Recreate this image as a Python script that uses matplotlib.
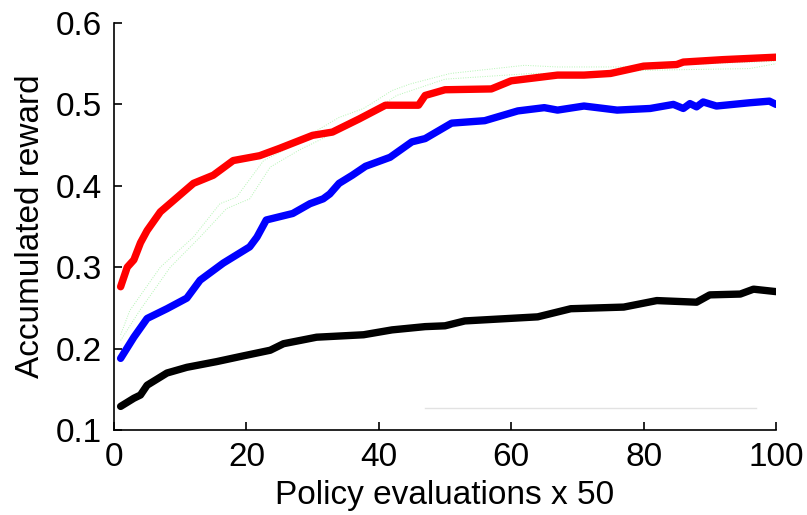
"""
plot.py  —  Accumulated reward vs. number of policy evaluations.
Usage: python plot.py
"""

import matplotlib
matplotlib.use("Agg")
import matplotlib.pyplot as plt

# red: best method
red_x = [1, 2, 3, 4, 5, 7, 9, 12, 15, 18, 22, 25, 30, 33, 37, 41, 46, 47, 50,
         57, 60, 64, 67, 71, 75, 80, 85, 86, 92, 100]
red_y = [0.276, 0.300, 0.309, 0.330, 0.345, 0.368, 0.382, 0.403, 0.413, 0.431,
         0.437, 0.446, 0.462, 0.466, 0.482, 0.499, 0.499, 0.511, 0.518, 0.519,
         0.529, 0.533, 0.536, 0.536, 0.538, 0.547, 0.549, 0.552, 0.555, 0.558]

# blue
blue_x = [1, 3, 5, 8, 11, 13, 16.5, 20.5, 21.6, 23, 27, 29.6, 31.6, 32.6, 34,
          36, 38, 41.7, 45, 47, 51, 56, 61, 65, 67, 71, 76, 81, 84.5, 86, 87,
          88, 89, 91, 96, 99, 100]
blue_y = [0.188, 0.214, 0.237, 0.249, 0.262, 0.284, 0.305, 0.325, 0.337, 0.358,
          0.366, 0.378, 0.384, 0.390, 0.403, 0.413, 0.424, 0.435, 0.454, 0.458,
          0.477, 0.480, 0.492, 0.496, 0.493, 0.498, 0.493, 0.495, 0.500, 0.495,
          0.501, 0.497, 0.503, 0.498, 0.502, 0.504, 0.500]

# black: baseline
black_x = [1, 3, 4, 5, 8, 11, 15.5, 19.5, 23.6, 25.6, 30.6, 37.7, 42, 47, 50,
           53, 64, 69, 77, 82, 88, 90, 94.6, 96.6, 100]
black_y = [0.129, 0.139, 0.143, 0.155, 0.170, 0.177, 0.184, 0.191, 0.198, 0.206,
           0.214, 0.217, 0.223, 0.227, 0.228, 0.234, 0.239, 0.249, 0.251, 0.259,
           0.257, 0.266, 0.267, 0.273, 0.270]

# faint green band (upper / lower)
gu_x = [1, 2.4, 7, 12, 16, 18.5, 22.6, 27.6, 29, 34, 37.7, 42, 44.7, 50.8, 62,
        67, 76, 100]
gu_y = [0.217, 0.247, 0.300, 0.337, 0.378, 0.386, 0.431, 0.452, 0.460, 0.484,
        0.495, 0.517, 0.525, 0.538, 0.548, 0.546, 0.546, 0.553]
gl_x = [1, 3.9, 8.5, 13, 17, 20.5, 23.6, 28, 32, 37, 42.7, 50, 63, 67, 81, 96, 100]
gl_y = [0.210, 0.247, 0.300, 0.337, 0.372, 0.384, 0.423, 0.444, 0.460, 0.480,
        0.511, 0.531, 0.538, 0.538, 0.542, 0.544, 0.550]

# thin grey stub near the bottom
grey_x = [47, 97]
grey_y = [0.127, 0.127]

FONT = "Liberation Sans"
FS = 24

fig = plt.figure(figsize=(8.07, 5.15), dpi=100)
ax = fig.add_axes([114/807, 1 - 430/515, 662/807, 407/515])

ax.plot(gu_x, gu_y, color="#b5f5b5", lw=0.7, ls=(0, (1, 1.5)))
ax.plot(gl_x, gl_y, color="#b5f5b5", lw=0.7, ls=(0, (1, 1.5)))
ax.plot(grey_x, grey_y, color="#e2e2e2", lw=1.0)
ax.plot(red_x, red_y, color="#ff0000", lw=5.3, solid_joinstyle="round",
        solid_capstyle="round")
ax.plot(blue_x, blue_y, color="#0000ff", lw=5.3, solid_joinstyle="round",
        solid_capstyle="round")
ax.plot(black_x, black_y, color="#000000", lw=5.3, solid_joinstyle="round",
        solid_capstyle="round")

ax.set_xlim(0, 100); ax.set_ylim(0.1, 0.6)
ax.set_xticks([0, 20, 40, 60, 80, 100])
ax.set_yticks([0.1, 0.2, 0.3, 0.4, 0.5, 0.6])
ax.set_yticklabels(["0.1", "0.2", "0.3", "0.4", "0.5", "0.6"])
for s in ["top", "right"]:
    ax.spines[s].set_visible(False)
for s in ["left", "bottom"]:
    ax.spines[s].set_linewidth(1.2)
ax.tick_params(direction="in", length=6, width=1.2, labelsize=FS, pad=9)
for lab in ax.get_xticklabels() + ax.get_yticklabels():
    lab.set_fontfamily(FONT)

ax.set_xlabel("Policy evaluations x 50", fontsize=FS, fontfamily=FONT, labelpad=5)
ax.set_ylabel("Accumulated reward", fontsize=FS, fontfamily=FONT, labelpad=7)

plt.savefig("out.png", dpi=100)
plt.close()
